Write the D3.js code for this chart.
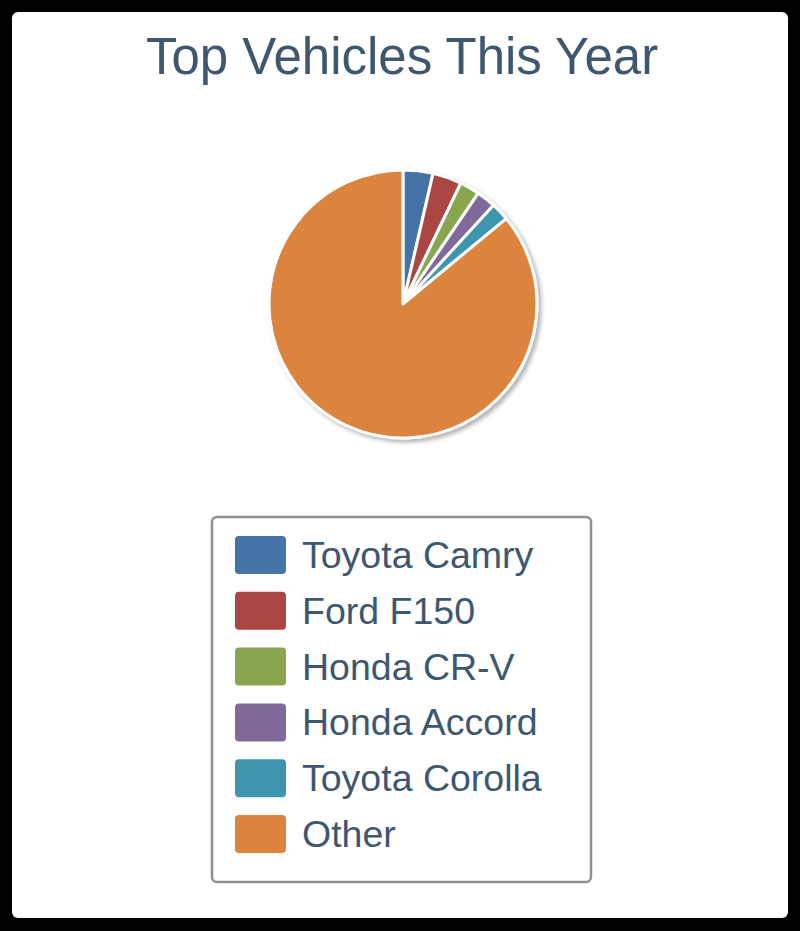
<!DOCTYPE html>
<html>
<head>
<meta charset="utf-8">
<script src="https://cdn.jsdelivr.net/npm/d3@7"></script>
<style>
  html, body { margin: 0; padding: 0; background: #000; }
  svg { display: block; }
  text { font-family: "Liberation Sans", Arial, Helvetica, sans-serif; }
</style>
</head>
<body>
<svg id="chart" width="800" height="931"></svg>
<script>
const categories = ["Toyota Camry", "Ford F150", "Honda CR-V", "Honda Accord", "Toyota Corolla", "Other"];
const values = [3.6, 3.5, 2.4, 2.3, 2.2, 86.0];
const colors = ["#4572A7", "#AA4643", "#89A54E", "#80699B", "#3D96AE", "#DB843D"];
const title = "Top Vehicles This Year";

const data = categories.map((c, i) => ({ name: c, value: values[i], color: colors[i] }));

const svg = d3.select("#chart");
const textColor = "#3E576F";

// Card
svg.append("rect").attr("x", 0).attr("y", 0).attr("width", 800).attr("height", 931).attr("fill", "#000");
svg.append("rect")
  .attr("x", 12).attr("y", 12).attr("width", 776).attr("height", 906)
  .attr("rx", 6).attr("ry", 6).attr("fill", "#fff");

// Title
svg.append("text")
  .attr("x", 402).attr("y", 74)
  .attr("text-anchor", "middle")
  .style("font-size", "51px")
  .attr("fill", textColor)
  .text(title);

// Shadow filter
const defs = svg.append("defs");
const f = defs.append("filter").attr("id", "shadow").attr("x", "-20%").attr("y", "-20%").attr("width", "140%").attr("height", "140%");
f.append("feGaussianBlur").attr("in", "SourceAlpha").attr("stdDeviation", 2.2).attr("result", "blur");
f.append("feOffset").attr("in", "blur").attr("dx", 3).attr("dy", 3).attr("result", "off");
f.append("feComponentTransfer").attr("in", "off").attr("result", "sh")
  .append("feFuncA").attr("type", "linear").attr("slope", 0.3);
const fm = f.append("feMerge");
fm.append("feMergeNode").attr("in", "sh");
fm.append("feMergeNode").attr("in", "SourceGraphic");

// Pie
const cx = 403, cy = 304, r = 134;
const pie = d3.pie().sort(null).value(d => d.value);
const arc = d3.arc().innerRadius(0).outerRadius(r);
const g = svg.append("g").attr("transform", `translate(${cx},${cy})`);
const arcs = pie(data);

g.append("g").attr("filter", "url(#shadow)")
  .selectAll("path").data(arcs).join("path")
  .attr("d", arc)
  .attr("fill", d => d.data.color)
  .attr("stroke", "#fff")
  .attr("stroke-width", 3)
  .attr("stroke-linejoin", "round");

// Legend
const lx = 212, ly = 517, lw = 379, lh = 365;
svg.append("rect")
  .attr("x", lx).attr("y", ly).attr("width", lw).attr("height", lh)
  .attr("rx", 5).attr("ry", 5)
  .attr("fill", "#fff").attr("stroke", "#909090").attr("stroke-width", 2.5);

const rowY = d3.scaleLinear().domain([0, categories.length - 1]).range([568, 847]);
const items = svg.append("g").selectAll("g").data(data).join("g")
  .attr("transform", (d, i) => `translate(0,${rowY(i)})`);
items.append("rect")
  .attr("x", 235).attr("y", -32).attr("width", 51).attr("height", 38)
  .attr("rx", 4).attr("ry", 4)
  .attr("fill", d => d.color);
items.append("text")
  .attr("x", 302).attr("y", 0)
  .style("font-size", "37.5px")
  .attr("fill", textColor)
  .text(d => d.name);
</script>
</body>
</html>
